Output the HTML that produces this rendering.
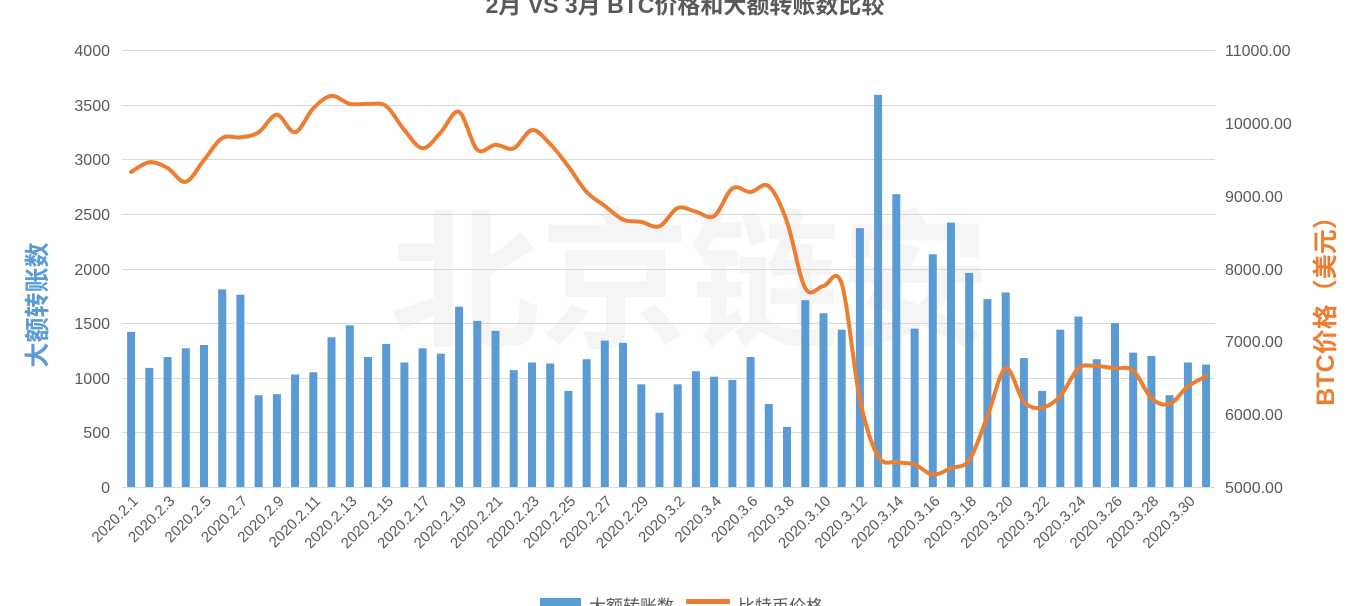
<!DOCTYPE html>
<html><head><meta charset="utf-8"><style>
body{margin:0;background:#fff;}
svg{display:block;font-family:"Liberation Sans","Noto Sans CJK SC",sans-serif;}
</style></head><body>
<svg id="s" width="1370" height="606" viewBox="0 0 1370 606" xmlns="http://www.w3.org/2000/svg">
<rect width="1370" height="606" fill="#fff"/>
<text x="690" y="335" font-size="150" fill="#f5f5f5" text-anchor="middle" font-weight="bold">北京链安</text>
<g stroke="#d9d9d9" stroke-width="1">
<line x1="122" x2="1215" y1="50.5" y2="50.5"/><line x1="122" x2="1215" y1="105.5" y2="105.5"/>
<line x1="122" x2="1215" y1="159.5" y2="159.5"/><line x1="122" x2="1215" y1="214.5" y2="214.5"/>
<line x1="122" x2="1215" y1="269.5" y2="269.5"/><line x1="122" x2="1215" y1="323.5" y2="323.5"/>
<line x1="122" x2="1215" y1="378.5" y2="378.5"/><line x1="122" x2="1215" y1="432.5" y2="432.5"/>
<line x1="122" x2="1215" y1="487.5" y2="487.5"/>
</g>
<g id="bars" fill="#5B9BD5"></g>
<path id="ln" fill="none" stroke="#ED7D31" stroke-width="4" stroke-linejoin="round" stroke-linecap="round"/>
<text x="685" y="13" font-size="23" font-weight="bold" fill="#595959" text-anchor="middle">2月 VS 3月 BTC价格和大额转账数比较</text>
<g font-size="16" fill="#595959" text-anchor="end">
<text x="110" y="56">4000</text><text x="110" y="111">3500</text><text x="110" y="165">3000</text>
<text x="110" y="220">2500</text><text x="110" y="275">2000</text><text x="110" y="329">1500</text>
<text x="110" y="384">1000</text><text x="110" y="438">500</text><text x="110" y="493">0</text>
</g>
<g font-size="16" fill="#595959">
<text x="1225" y="56">11000.00</text><text x="1225" y="129">10000.00</text><text x="1225" y="202">9000.00</text>
<text x="1225" y="275">8000.00</text><text x="1225" y="347">7000.00</text><text x="1225" y="420">6000.00</text>
<text x="1225" y="493">5000.00</text>
</g>
<text transform="translate(46,305) rotate(-90)" font-size="25" font-weight="bold" fill="#5B9BD5" text-anchor="middle">大额转账数</text>
<text transform="translate(1334,305) rotate(-90)" font-size="25" font-weight="bold" fill="#ED7D31" text-anchor="middle">BTC价格（美元）</text>
<g font-size="15" fill="#595959" text-anchor="end">
<text transform="translate(139,502) rotate(-45)">2020.2.1</text>
<text transform="translate(175.5,502) rotate(-45)">2020.2.3</text>
<text transform="translate(212,502) rotate(-45)">2020.2.5</text>
<text transform="translate(248.4,502) rotate(-45)">2020.2.7</text>
<text transform="translate(284.9,502) rotate(-45)">2020.2.9</text>
<text transform="translate(321.3,502) rotate(-45)">2020.2.11</text>
<text transform="translate(357.7,502) rotate(-45)">2020.2.13</text>
<text transform="translate(394.2,502) rotate(-45)">2020.2.15</text>
<text transform="translate(430.6,502) rotate(-45)">2020.2.17</text>
<text transform="translate(467.1,502) rotate(-45)">2020.2.19</text>
<text transform="translate(503.5,502) rotate(-45)">2020.2.21</text>
<text transform="translate(539.9,502) rotate(-45)">2020.2.23</text>
<text transform="translate(576.4,502) rotate(-45)">2020.2.25</text>
<text transform="translate(612.8,502) rotate(-45)">2020.2.27</text>
<text transform="translate(649.3,502) rotate(-45)">2020.2.29</text>
<text transform="translate(685.7,502) rotate(-45)">2020.3.2</text>
<text transform="translate(722.1,502) rotate(-45)">2020.3.4</text>
<text transform="translate(758.6,502) rotate(-45)">2020.3.6</text>
<text transform="translate(795,502) rotate(-45)">2020.3.8</text>
<text transform="translate(831.5,502) rotate(-45)">2020.3.10</text>
<text transform="translate(867.9,502) rotate(-45)">2020.3.12</text>
<text transform="translate(904.3,502) rotate(-45)">2020.3.14</text>
<text transform="translate(940.8,502) rotate(-45)">2020.3.16</text>
<text transform="translate(977.2,502) rotate(-45)">2020.3.18</text>
<text transform="translate(1013.7,502) rotate(-45)">2020.3.20</text>
<text transform="translate(1050.1,502) rotate(-45)">2020.3.22</text>
<text transform="translate(1086.5,502) rotate(-45)">2020.3.24</text>
<text transform="translate(1123,502) rotate(-45)">2020.3.26</text>
<text transform="translate(1159.4,502) rotate(-45)">2020.3.28</text>
<text transform="translate(1195.9,502) rotate(-45)">2020.3.30</text>
</g>
<rect x="540" y="598" width="41" height="10" fill="#5B9BD5"/>
<text x="589" y="612" font-size="17" fill="#595959">大额转账数</text>
<rect x="686" y="599" width="44" height="5" fill="#ED7D31"/>
<text x="738" y="612" font-size="17" fill="#595959">比特币价格</text>
</svg>
<script>
var b=[1420,1090,1190,1270,1300,1810,1760,840,850,1030,1050,1370,1480,1190,1310,1140,1270,1220,1650,1520,1430,1070,1140,1130,880,1170,1340,1320,940,680,940,1060,1010,980,1190,760,550,1710,1590,1440,2370,3590,2680,1450,2130,2420,1960,1720,1780,1180,880,1440,1560,1170,1500,1230,1200,840,1140,1120];
var p=[9325,9460,9380,9190,9490,9790,9800,9870,10110,9870,10200,10370,10260,10260,10230,9900,9650,9870,10150,9630,9700,9650,9900,9710,9400,9050,8860,8670,8640,8580,8830,8780,8720,9100,9050,9130,8640,7730,7760,7790,6200,5420,5340,5310,5170,5260,5370,5970,6630,6170,6090,6250,6630,6660,6630,6600,6220,6140,6380,6520];
var g=document.getElementById('bars'),h='';
function cx(i){return 122+(i+0.5)*18.22;}
for(var i=0;i<60;i++){var y=487-b[i]*0.10925;h+='<rect x="'+(cx(i)-4).toFixed(1)+'" y="'+y.toFixed(1)+'" width="8" height="'+(487-y).toFixed(1)+'"/>';}
g.innerHTML=h;
var pts=p.map(function(v,i){return [cx(i),487-(v-5000)*437/6000];});
var d='M'+pts[0][0]+','+pts[0][1];
for(var i=0;i<pts.length-1;i++){var p0=pts[i-1]||pts[i],p1=pts[i],p2=pts[i+1],p3=pts[i+2]||p2;
var c1=[p1[0]+(p2[0]-p0[0])/6,p1[1]+(p2[1]-p0[1])/6],c2=[p2[0]-(p3[0]-p1[0])/6,p2[1]-(p3[1]-p1[1])/6];
d+=' C'+c1[0].toFixed(1)+','+c1[1].toFixed(1)+' '+c2[0].toFixed(1)+','+c2[1].toFixed(1)+' '+p2[0].toFixed(1)+','+p2[1].toFixed(1);}
document.getElementById('ln').setAttribute('d',d);
</script>
</body></html>
